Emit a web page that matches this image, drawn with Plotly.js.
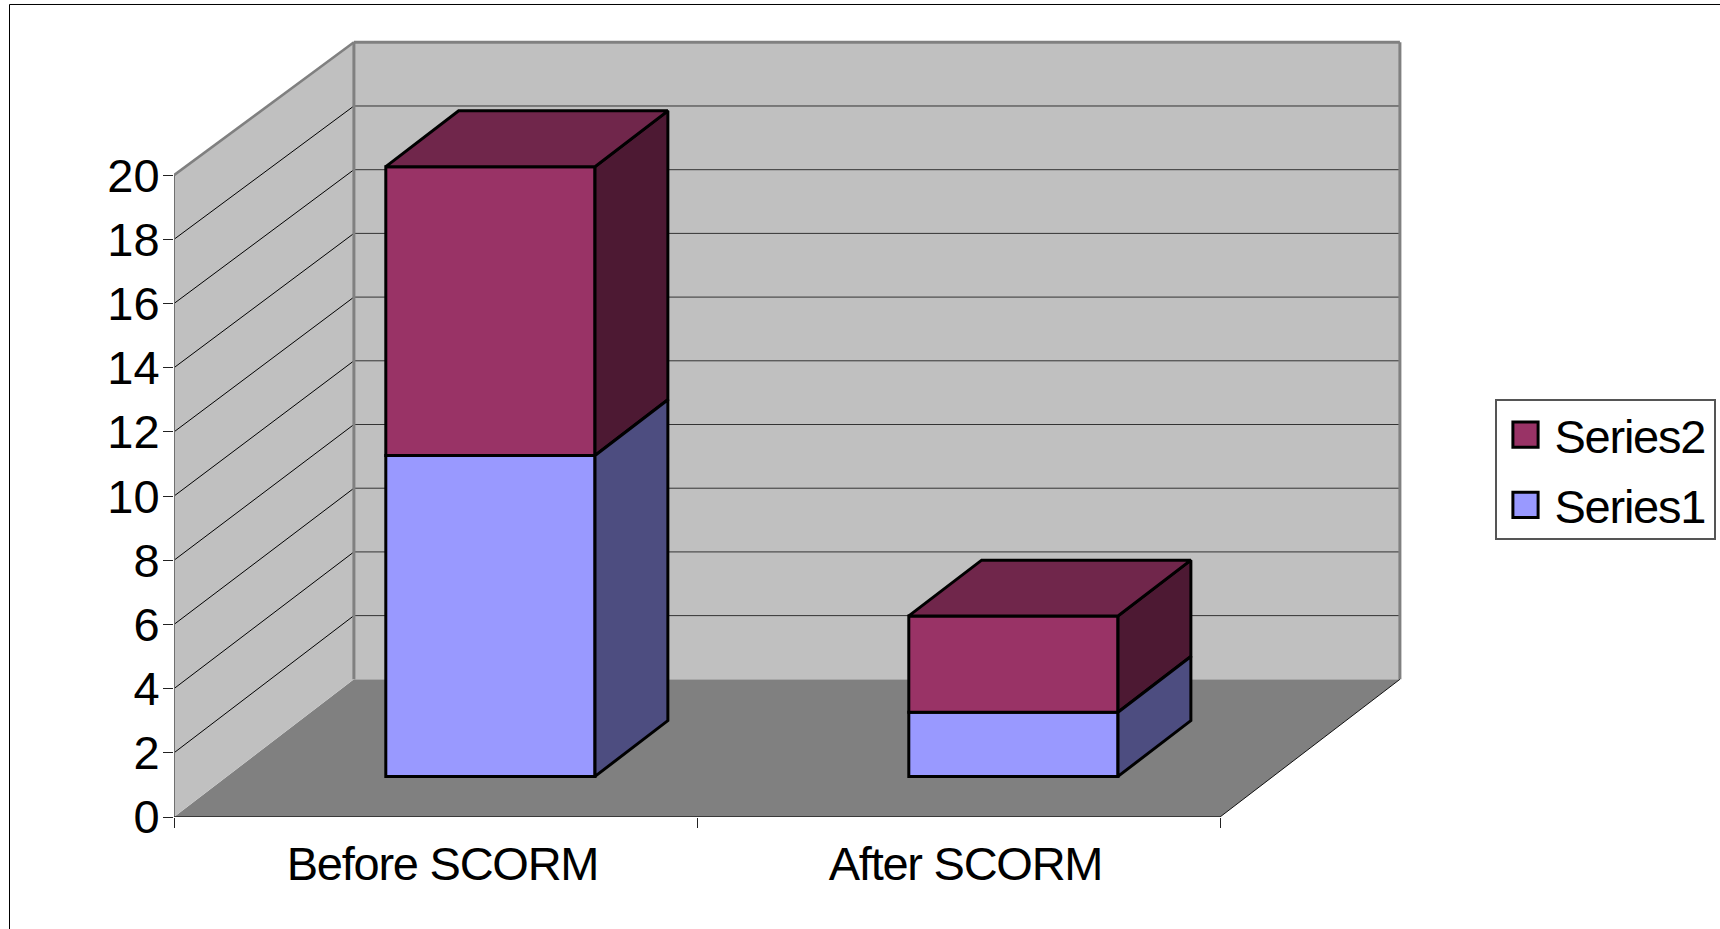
<!DOCTYPE html>
<html>
<head>
<meta charset="utf-8">
<script src="https://cdn.plot.ly/plotly-3.0.1.min.js"></script>
<style>
html,body{margin:0;padding:0;background:#fff;overflow:hidden}
#chart{width:1720px;height:929px}
.xtick text,.legendtext{letter-spacing:-1.25px}
</style>
</head>
<body>
<div id="chart"></div>
<script>
// ---- values ----
const categories = ['Before SCORM', 'After SCORM'];
const catPositions = [0, 1];
const series1 = [10, 2];
const series2 = [9, 3];
const yTicks = [0, 2, 4, 6, 8, 10, 12, 14, 16, 18, 20];
const xBoundaries = [-0.5, 0.5, 1.5];

// ---- 3D look: shift per unit of depth (category units / value units) ----
const depthX = 0.344, depthY = 4.29, wallScale = 0.9925;
const barFront = 0.295, barBack = 0.7, barHalf = 0.2, barShift = 0.0035;
const px = d => d * depthX + barShift, py = d => d * depthY;

const W = 1720, H = 929, L = 174, R = 1404, T = 40, B = 816.7;
const xMin = -0.5, xMax = xMin + (R - L) / 523;
const yMin = 0, yMax = (B - T) / 32.08;
const xEnd = 1.5;

// walls
const path = pts => 'M' + pts.map(p => p[0] + ',' + p[1]).join('L') + 'Z';
const poly = (pts, fill, lc, lw) => ({type: 'path', layer: 'below', xref: 'x', yref: 'y', path: path(pts),
  fillcolor: fill, line: {color: lc, width: lw}});
const seg = (x0, y0, x1, y1, c, w) => ({type: 'line', layer: 'below', xref: 'x', yref: 'y', x0, y0, x1, y1, line: {color: c, width: w}});
const backY = v => depthY + v * wallScale;
const topV = yTicks[yTicks.length - 1];
const xBack0 = xMin + depthX, xBack1 = xEnd + depthX;

const shapes = [
  poly([[xMin, 0], [xBack0, backY(0)], [xBack1, backY(0)], [xEnd, 0]], '#808080', 'rgba(0,0,0,0)', 0),
  poly([[xMin, 0], [xBack0, backY(0)], [xBack0, backY(topV)], [xMin, topV]], '#C0C0C0', 'rgba(0,0,0,0)', 0),
  poly([[xBack0, backY(0)], [xBack1, backY(0)], [xBack1, backY(topV)], [xBack0, backY(topV)]], '#C0C0C0', 'rgba(0,0,0,0)', 0)
];
yTicks.slice(1, -1).forEach(v => {
  shapes.push(seg(xMin, v, xBack0, backY(v), '#000000', 1));
  shapes.push(seg(xBack0, backY(v), xBack1, backY(v), '#333333', 1));
});
shapes.push(seg(xMin, topV, xBack0, backY(topV), '#808080', 2.5));
shapes.push(seg(xBack0, backY(topV), xBack1, backY(topV), '#808080', 3));
shapes.push(seg(xBack0, backY(0), xBack0, backY(topV), '#808080', 3));
shapes.push(seg(xBack1, backY(0), xBack1, backY(topV), '#808080', 3));
shapes.push(seg(xEnd, 0, xBack1, backY(0), '#111111', 1));
shapes.push(seg(xMin, 0, xMin, topV, '#707070', 2));
shapes.push(seg(xMin, 0, xEnd, 0, '#222222', 1.5));

// picture frame (paper coordinates)
const pxX = p => (p - L) / (R - L), pxY = p => (B - p) / (B - T);
shapes.push({type: 'line', layer: 'below', xref: 'paper', yref: 'paper', x0: pxX(9.5), y0: pxY(H), x1: pxX(9.5), y1: pxY(4.5), line: {color: '#000', width: 1}});
shapes.push({type: 'line', layer: 'below', xref: 'paper', yref: 'paper', x0: pxX(9.5), y0: pxY(4.5), x1: pxX(W), y1: pxY(4.5), line: {color: '#000', width: 1}});

// bars
const lines = {color: '#000', width: 3};
const barTrace = (name, vals, bases, color, rank) => ({
  type: 'bar', name, legendgroup: name, legendrank: rank, orientation: 'v',
  x: catPositions.map(c => c + px(barFront)),
  y: vals, base: bases.map(b => b + py(barFront)), width: barHalf * 2,
  marker: {color, line: {color: '#000', width: 3}}, hoverinfo: 'name+y'
});
const sidePoly = (vals, bases) => {
  const xs = [], ys = [];
  catPositions.forEach((c, i) => {
    const r = c + barHalf;
    const b = bases[i], t = b + vals[i];
    xs.push(r + px(barFront), r + px(barBack), r + px(barBack), r + px(barFront), r + px(barFront), null);
    ys.push(b + py(barFront), b + py(barBack), t + py(barBack), t + py(barFront), b + py(barFront), null);
  });
  return {xs, ys};
};
const topPoly = (vals, bases) => {
  const xs = [], ys = [];
  catPositions.forEach((c, i) => {
    const t = bases[i] + vals[i];
    xs.push(c - barHalf + px(barFront), c - barHalf + px(barBack), c + barHalf + px(barBack), c + barHalf + px(barFront), c - barHalf + px(barFront), null);
    ys.push(t + py(barFront), t + py(barBack), t + py(barBack), t + py(barFront), t + py(barFront), null);
  });
  return {xs, ys};
};
const faceTrace = (g, color, name) => ({
  type: 'scatter', mode: 'lines', x: g.xs, y: g.ys, fill: 'toself', fillcolor: color,
  line: lines, showlegend: false, legendgroup: name, hoverinfo: 'skip'
});
const zeroBase = series1.map(() => 0);

const data = [
  barTrace('Series1', series1, zeroBase, '#9999FF', 2),
  barTrace('Series2', series2, series1, '#993366', 1),
  faceTrace(sidePoly(series2, series1), '#4D1933', 'Series2'),
  faceTrace(sidePoly(series1, zeroBase), '#4D4D80', 'Series1'),
  faceTrace(topPoly(series2, series1), '#70264B', 'Series2')
];

const layout = {
  width: W, height: H,
  margin: {l: L, r: W - R, t: T, b: H - B, pad: 0, autoexpand: false},
  paper_bgcolor: '#fff', plot_bgcolor: 'rgba(0,0,0,0)',
  font: {family: '"Liberation Sans", Arial, sans-serif', size: 47, color: '#000'},
  barmode: 'overlay', dragmode: false, hovermode: false,
  showlegend: true,
  legend: {
    x: pxX(1495), y: pxY(399), xanchor: 'left', yanchor: 'top',
    bgcolor: '#fff', bordercolor: '#555', borderwidth: 1.5,
    traceorder: 'grouped', tracegroupgap: 6, itemwidth: 48,
    font: {size: 47, color: '#000'}, itemclick: false, itemdoubleclick: false
  },
  xaxis: {
    range: [xMin, xMax], showgrid: false, zeroline: false, showline: false, fixedrange: true,
    tickmode: 'array', tickvals: catPositions, ticktext: categories, ticks: '', ticklen: 0,
    ticklabelshift: 7, ticklabelstandoff: 15,
    minor: {tickmode: 'array', tickvals: xBoundaries, ticks: 'outside', ticklen: 10, tickwidth: 1, tickcolor: '#222', showgrid: false},
    tickfont: {size: 47}
  },
  yaxis: {
    range: [yMin, yMax], showgrid: false, zeroline: false, showline: false, fixedrange: true,
    tickmode: 'array', tickvals: yTicks, ticktext: yTicks.map(String),
    ticks: 'outside', ticklen: 10, tickwidth: 1, tickcolor: '#222',
    ticklabelstandoff: -6,
    tickfont: {size: 47}
  },
  shapes
};
Plotly.newPlot('chart', data, layout, {displayModeBar: false}).then(gd => {
  // Excel-style legend: larger swatches and a tighter box
  gd.querySelectorAll('.legend .legendpoints path').forEach(p => {
    p.setAttribute('transform', 'translate(29,0) scale(2.1)');
    p.style.vectorEffect = 'non-scaling-stroke';
  });
  const bg = gd.querySelector('.legend rect.bg');
  if (bg) { bg.setAttribute('width', 219); bg.setAttribute('height', 139); }
  const toggleFix = gd.querySelector('.legend .scrollbox');
  if (toggleFix) toggleFix.setAttribute('transform', 'translate(0,-3)');
});
</script>
</body>
</html>
